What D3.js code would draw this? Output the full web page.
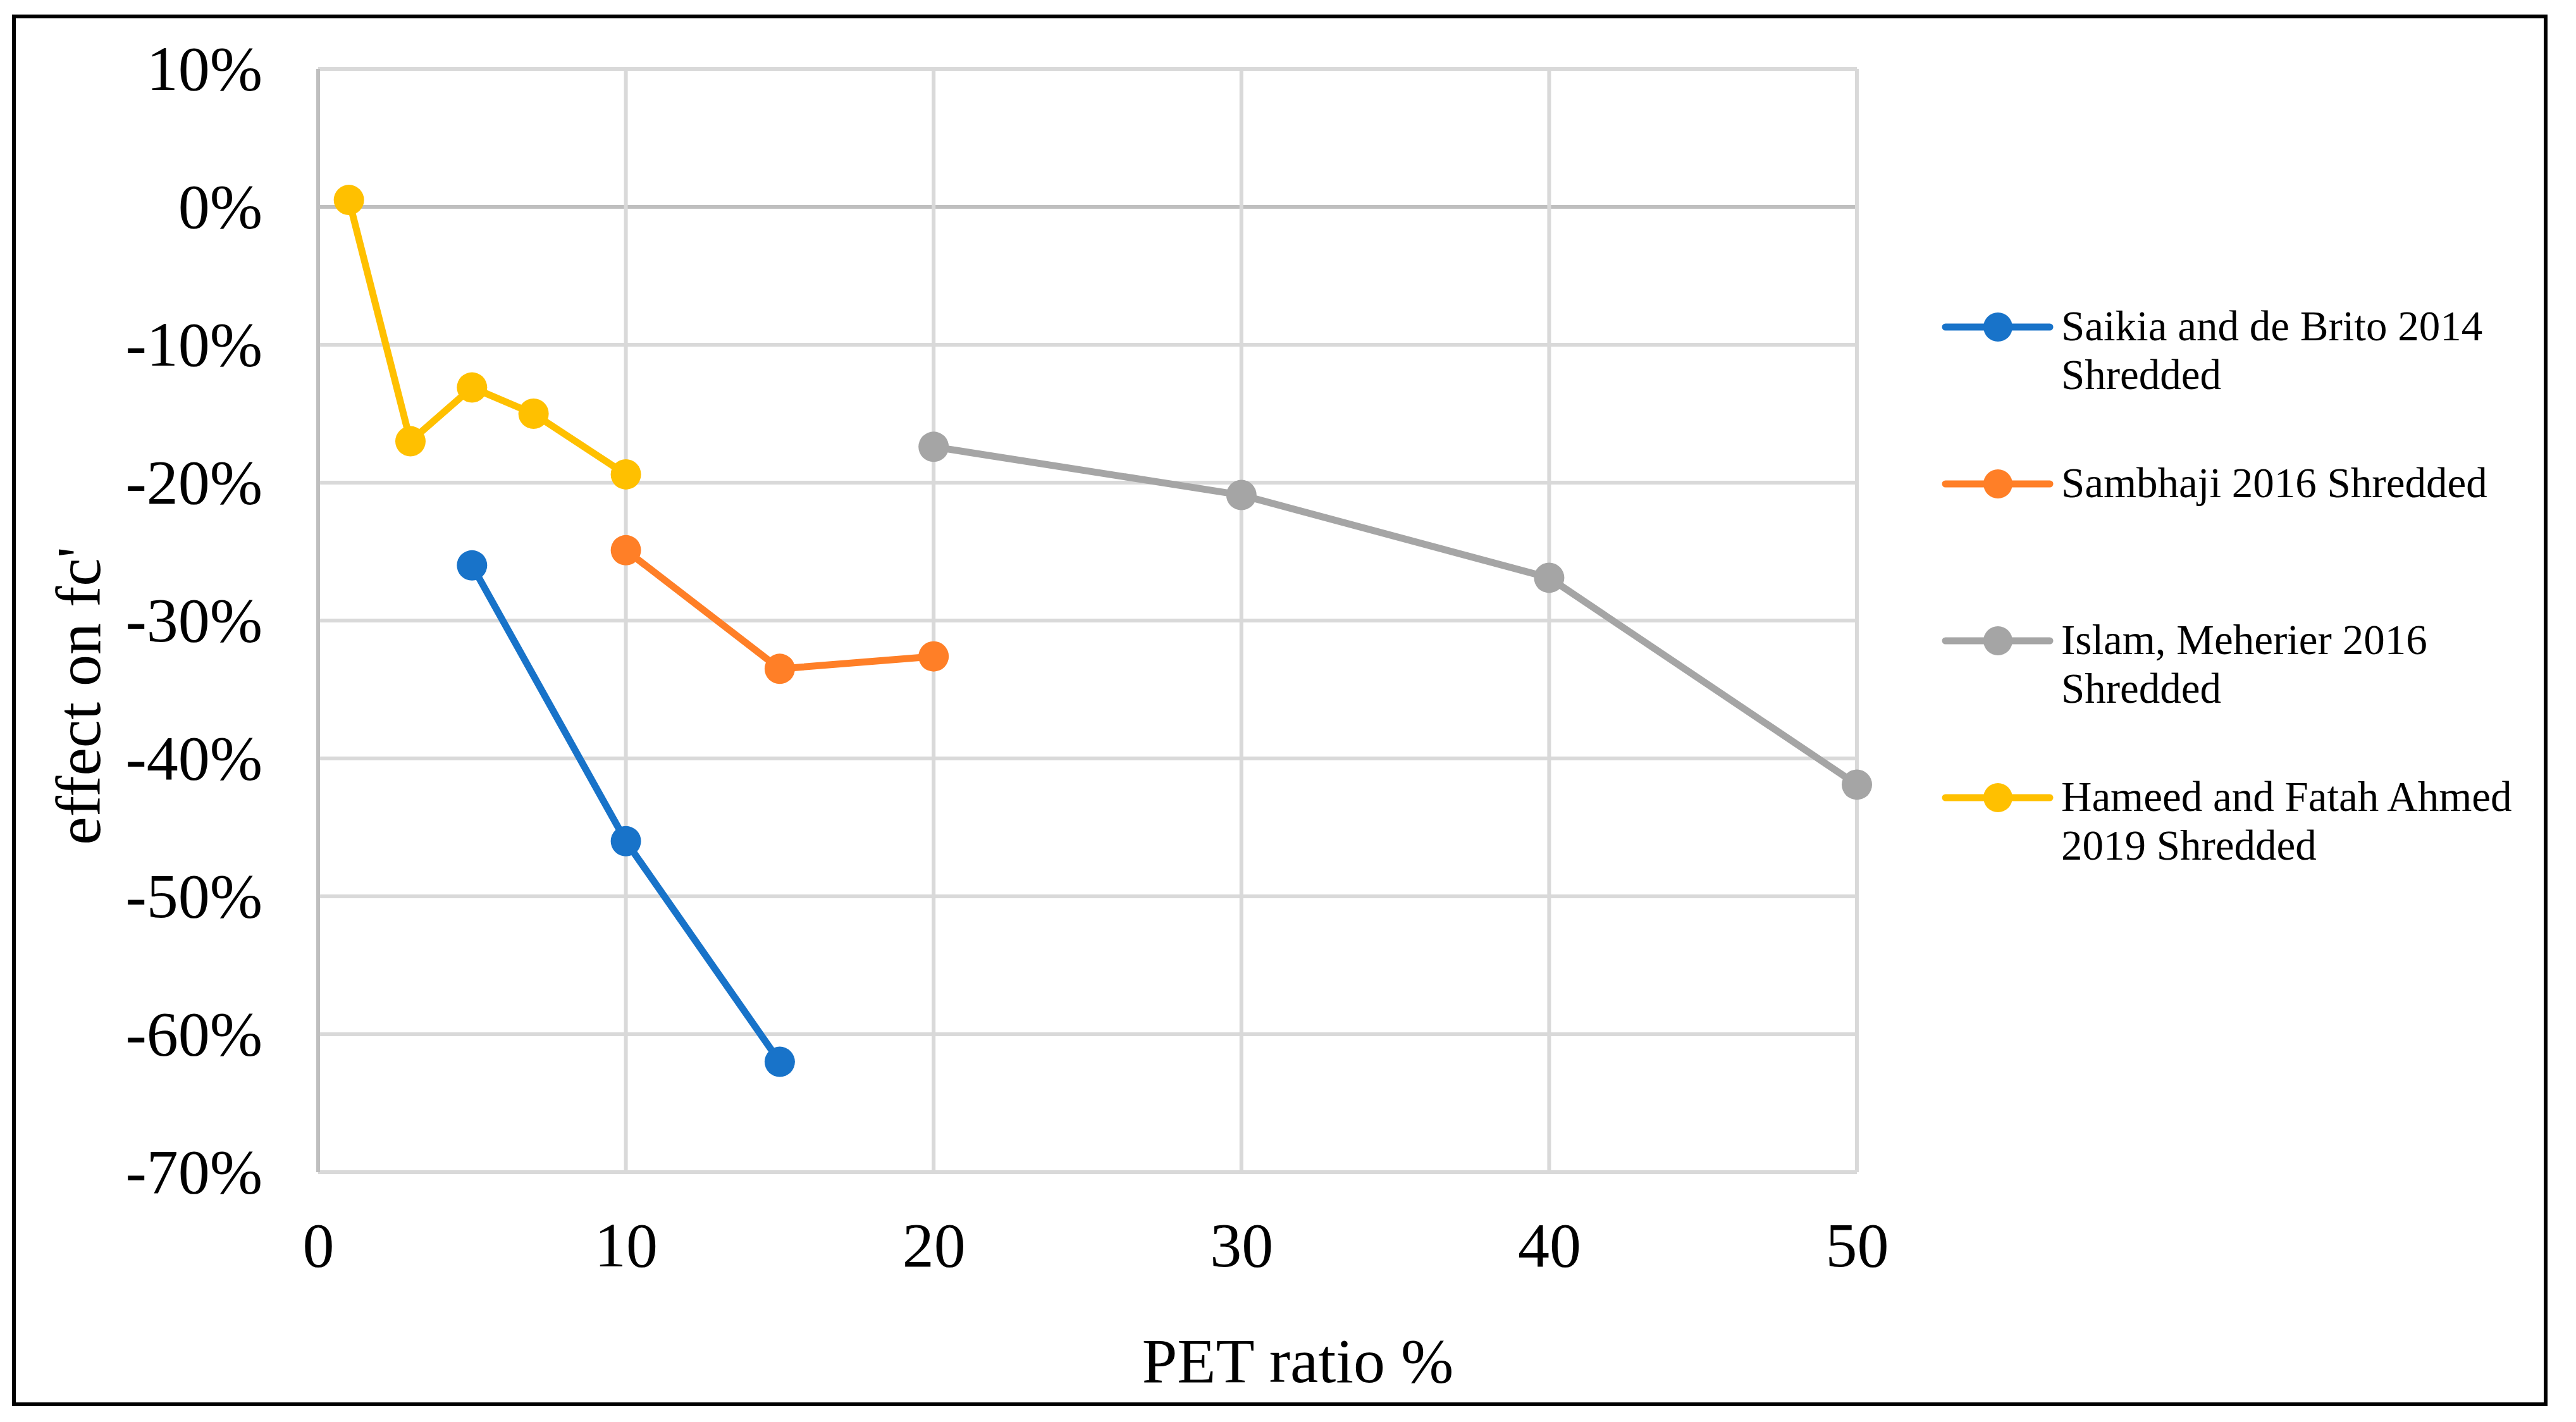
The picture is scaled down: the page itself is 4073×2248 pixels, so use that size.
<!DOCTYPE html>
<html>
<head>
<meta charset="utf-8">
<script src="https://cdn.jsdelivr.net/npm/d3@7"></script>
<style>
  html, body { margin: 0; padding: 0; background: #ffffff; }
  svg { display: block; }
  text { font-family: "Liberation Serif", "Times New Roman", serif; fill: #000; }
</style>
</head>
<body>
<svg id="chart" width="4073" height="2248"></svg>
<script>
// ---------- data ----------
const seriesNames = [
  ["Saikia and de Brito 2014", "Shredded"],
  ["Sambhaji 2016 Shredded"],
  ["Islam, Meherier 2016", "Shredded"],
  ["Hameed and Fatah Ahmed", "2019 Shredded"]
];
const saikiaX = [5, 10, 15];
const saikiaY = [-26, -46, -62];
const sambhajiX = [10, 15, 20];
const sambhajiY = [-24.9, -33.5, -32.6];
const islamX = [20, 30, 40, 50];
const islamY = [-17.4, -20.9, -26.9, -41.9];
const hameedX = [1, 3, 5, 7, 10];
const hameedY = [0.5, -17, -13.1, -15, -19.4];
const xTicks = [0, 10, 20, 30, 40, 50];
const yTicks = [10, 0, -10, -20, -30, -40, -50, -60, -70];
const colors = ["#1873C9", "#FF7F27", "#A5A5A5", "#FFC000"];
const xTitle = "PET ratio %";
const yTitle = "effect on fc'";

(function () {
const series = [
  { name: seriesNames[0], xs: saikiaX, ys: saikiaY, color: colors[0] },
  { name: seriesNames[1], xs: sambhajiX, ys: sambhajiY, color: colors[1] },
  { name: seriesNames[2], xs: islamX, ys: islamY, color: colors[2] },
  { name: seriesNames[3], xs: hameedX, ys: hameedY, color: colors[3] }
];

// ---------- layout ----------
const svg = d3.select("#chart");
const pLeft = 503, pRight = 2936, pTop = 109, pBottom = 1853;
const x = d3.scaleLinear().domain([0, 50]).range([pLeft, pRight]);
const y = d3.scaleLinear().domain([-70, 10]).range([pBottom, pTop]);

svg.append("rect").attr("x", 0).attr("y", 0).attr("width", 4073).attr("height", 2248).attr("fill", "#fff");

// gridlines
const grid = svg.append("g");
grid.selectAll("line.h").data(yTicks).enter().append("line").attr("class", "h")
  .attr("x1", pLeft).attr("x2", pRight)
  .attr("y1", d => y(d)).attr("y2", d => y(d))
  .attr("stroke", d => d === 0 ? "#BFBFBF" : "#D9D9D9")
  .attr("stroke-width", 6);
grid.selectAll("line.v").data(xTicks).enter().append("line").attr("class", "v")
  .attr("x1", d => x(d)).attr("x2", d => x(d))
  .attr("y1", pTop).attr("y2", pBottom)
  .attr("stroke", d => d === 0 ? "#BFBFBF" : "#D9D9D9")
  .attr("stroke-width", 6);

// axes (labels only)
const yAxis = svg.append("g").attr("transform", `translate(${pLeft},0)`)
  .call(d3.axisLeft(y).tickValues(yTicks).tickSize(0).tickPadding(88).tickFormat(d => d + "%"));
const xAxis = svg.append("g").attr("transform", `translate(0,${pBottom})`)
  .call(d3.axisBottom(x).tickValues(xTicks).tickSize(0).tickPadding(78).tickFormat(d3.format("d")));
[yAxis, xAxis].forEach(a => {
  a.select(".domain").remove();
  a.selectAll("text").attr("font-size", 100).attr("font-family", "Liberation Serif").attr("fill", "#000");
});

// axis titles
svg.append("text").attr("x", 2052).attr("y", 2185).attr("text-anchor", "middle")
  .attr("font-size", 100).text(xTitle);
svg.append("text").attr("transform", "translate(158,1100) rotate(-90)").attr("text-anchor", "middle")
  .attr("font-size", 100).text(yTitle);

// series
const line = d3.line().x(d => x(d[0])).y(d => y(d[1]));
series.forEach(s => {
  const pts = s.xs.map((v, i) => [v, s.ys[i]]);
  const g = svg.append("g");
  g.append("path").datum(pts).attr("d", line).attr("fill", "none")
    .attr("stroke", s.color).attr("stroke-width", 11).attr("stroke-linejoin", "round").attr("stroke-linecap", "round");
  g.selectAll("circle").data(pts).enter().append("circle")
    .attr("cx", d => x(d[0])).attr("cy", d => y(d[1])).attr("r", 24).attr("fill", s.color);
});

// legend
const legend = svg.append("g");
series.forEach((s, i) => {
  const ly = 517 + i * 248;
  const g = legend.append("g");
  g.append("line").attr("x1", 3076).attr("x2", 3241).attr("y1", ly).attr("y2", ly)
    .attr("stroke", s.color).attr("stroke-width", 11).attr("stroke-linecap", "round");
  g.append("circle").attr("cx", 3159).attr("cy", ly).attr("r", 23).attr("fill", s.color);
  const t = g.append("text").attr("x", 3259).attr("y", ly + 21).attr("font-size", 67);
  s.name.forEach((ln, j) => {
    t.append("tspan").attr("x", 3259).attr("dy", j === 0 ? 0 : 77).text(ln);
  });
});

// outer frame
svg.append("rect").attr("x", 22).attr("y", 26).attr("width", 4003).attr("height", 2194)
  .attr("fill", "none").attr("stroke", "#000").attr("stroke-width", 6);
})();
</script>
</body>
</html>
